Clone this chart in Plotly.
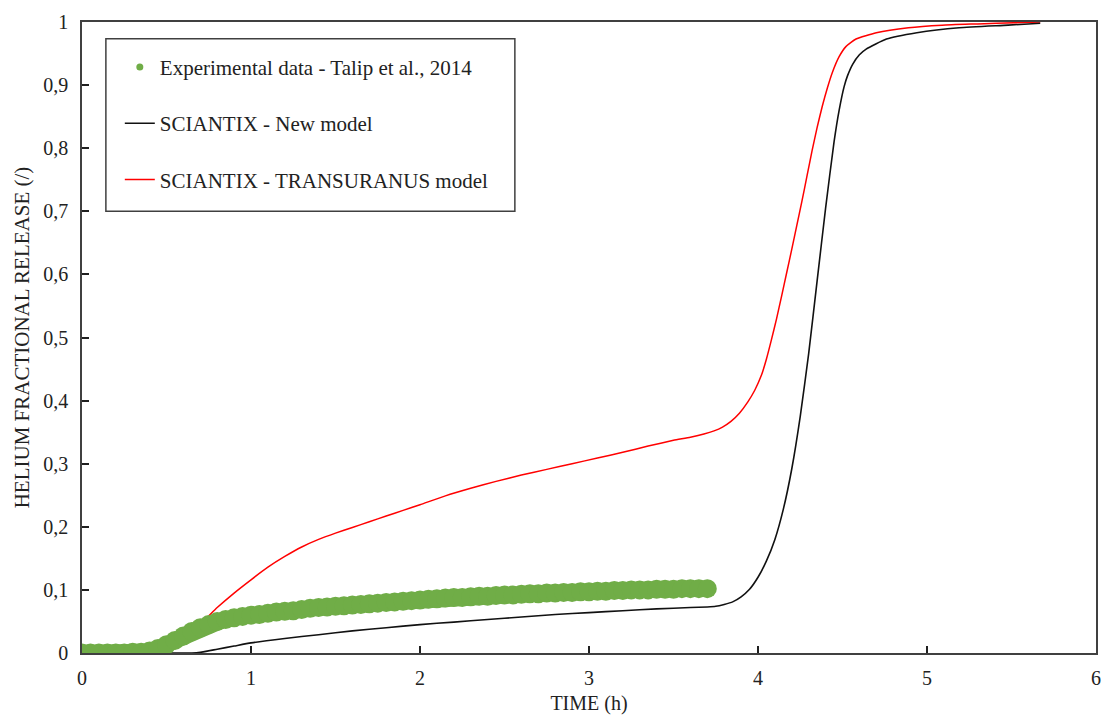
import plotly.graph_objects as go

# Experimental helium release (Talip et al., 2014)
exp_time = [0.00, 0.05, 0.10, 0.15, 0.20, 0.25, 0.30, 0.35, 0.40, 0.45,
            0.50, 0.55, 0.60, 0.65, 0.70, 0.75, 0.80, 0.85, 0.90, 0.95,
            1.00, 1.05, 1.10, 1.15, 1.20, 1.25, 1.30, 1.35, 1.40, 1.45,
            1.50, 1.55, 1.60, 1.65, 1.70, 1.75, 1.80, 1.85, 1.90, 1.95,
            2.00, 2.05, 2.10, 2.15, 2.20, 2.25, 2.30, 2.35, 2.40, 2.45,
            2.50, 2.55, 2.60, 2.65, 2.70, 2.75, 2.80, 2.85, 2.90, 2.95,
            3.00, 3.05, 3.10, 3.15, 3.20, 3.25, 3.30, 3.35, 3.40, 3.45,
            3.50, 3.55, 3.60, 3.65, 3.70]
exp_release = [0.000, 0.000, 0.000, 0.000, 0.000, 0.000, 0.001, 0.001, 0.003, 0.007,
               0.013, 0.020, 0.027, 0.034, 0.040, 0.045, 0.050, 0.053, 0.056, 0.058,
               0.060, 0.061, 0.063, 0.065, 0.066, 0.067, 0.069, 0.071, 0.072, 0.073,
               0.074, 0.075, 0.076, 0.077, 0.078, 0.079, 0.080, 0.081, 0.082, 0.083,
               0.084, 0.085, 0.086, 0.087, 0.088, 0.088, 0.089, 0.090, 0.090, 0.091,
               0.092, 0.092, 0.093, 0.094, 0.094, 0.095, 0.095, 0.096, 0.096, 0.097,
               0.097, 0.098, 0.098, 0.099, 0.099, 0.100, 0.100, 0.100, 0.101, 0.101,
               0.101, 0.102, 0.102, 0.102, 0.102]

# SCIANTIX - New model
new_time = [0.00, 0.65, 0.70, 0.80, 0.90, 1.00, 1.20, 1.40, 1.60, 1.80,
            2.00, 2.20, 2.40, 2.60, 2.80, 3.00, 3.20, 3.40, 3.60, 3.70,
            3.75, 3.80, 3.85, 3.90, 3.95, 4.00, 4.05, 4.10, 4.15, 4.20,
            4.25, 4.30, 4.35, 4.40, 4.45, 4.48, 4.51, 4.53, 4.56, 4.60,
            4.64, 4.76, 4.94, 5.19, 5.48, 5.67]
new_release = [0.000, 0.000, 0.001, 0.006, 0.011, 0.016, 0.023, 0.029, 0.035, 0.040,
               0.045, 0.049, 0.053, 0.057, 0.061, 0.064, 0.067, 0.070, 0.072, 0.073,
               0.074, 0.077, 0.081, 0.089, 0.101, 0.120, 0.146, 0.180, 0.228, 0.292,
               0.375, 0.475, 0.590, 0.705, 0.810, 0.860, 0.898, 0.915, 0.933, 0.948,
               0.957, 0.973, 0.983, 0.991, 0.995, 0.998]

# SCIANTIX - TRANSURANUS model
tu_time = [0.00, 0.35, 0.40, 0.50, 0.60, 0.70, 0.80, 0.90, 1.00, 1.10,
           1.20, 1.30, 1.40, 1.50, 1.60, 1.70, 1.80, 1.90, 2.00, 2.15,
           2.30, 2.45, 2.60, 2.75, 2.90, 3.05, 3.20, 3.35, 3.50, 3.60,
           3.68, 3.74, 3.79, 3.84, 3.89, 3.94, 3.98, 4.02, 4.05, 4.08,
           4.11, 4.14, 4.17, 4.20, 4.23, 4.26, 4.29, 4.32, 4.35, 4.38,
           4.41, 4.44, 4.48, 4.52, 4.58, 4.70, 4.89, 5.09, 5.30, 5.53,
           5.67]
tu_release = [0.000, 0.000, 0.002, 0.012, 0.027, 0.046, 0.072, 0.095, 0.116, 0.136,
              0.153, 0.168, 0.180, 0.190, 0.199, 0.208, 0.217, 0.226, 0.235, 0.249,
              0.261, 0.272, 0.282, 0.291, 0.300, 0.309, 0.318, 0.328, 0.337, 0.342,
              0.347, 0.352, 0.358, 0.367, 0.380, 0.398, 0.416, 0.440, 0.466, 0.497,
              0.530, 0.566, 0.603, 0.640, 0.678, 0.716, 0.756, 0.796, 0.833, 0.866,
              0.895, 0.920, 0.945, 0.961, 0.973, 0.983, 0.991, 0.995, 0.997, 0.999,
              1.000]

x_ticks = [0, 1, 2, 3, 4, 5, 6]
y_ticks = [0, 0.1, 0.2, 0.3, 0.4, 0.5, 0.6, 0.7, 0.8, 0.9, 1.0]
y_tick_text = ["0", "0,1", "0,2", "0,3", "0,4", "0,5", "0,6", "0,7", "0,8", "0,9", "1"]

GREEN = "#70AD47"
RED = "#FF0000"
BLACK = "#111111"
FONT = "Liberation Serif"
TEXT = "#222222"

fig = go.Figure()

# legend entries (kept separate so the legend symbols stay small)
fig.add_trace(go.Scatter(
    x=[None], y=[None], mode="markers", name="Experimental data - Talip et al., 2014",
    marker=dict(color=GREEN, size=7), legendgroup="exp",
))
fig.add_trace(go.Scatter(
    x=[None], y=[None], mode="lines", name="SCIANTIX - New model",
    legendgroup="new", line=dict(color=BLACK, width=1.6),
))
fig.add_trace(go.Scatter(
    x=[None], y=[None], mode="lines", name="SCIANTIX - TRANSURANUS model",
    legendgroup="tu", line=dict(color=RED, width=1.5),
))

# model curves
fig.add_trace(go.Scatter(
    x=tu_time, y=tu_release, mode="lines", showlegend=False, legendgroup="tu",
    line=dict(color=RED, width=1.5, shape="spline", smoothing=0.5),
))
fig.add_trace(go.Scatter(
    x=new_time, y=new_release, mode="lines", showlegend=False, legendgroup="new",
    line=dict(color=BLACK, width=1.6, shape="spline", smoothing=0.5),
))
# experimental band on top
fig.add_trace(go.Scatter(
    x=exp_time, y=exp_release, mode="lines+markers", showlegend=False, legendgroup="exp",
    line=dict(color=GREEN, width=15),
    marker=dict(color=GREEN, size=19, line=dict(width=0)),
))

axis_common = dict(
    showline=True, mirror=True, linecolor="#404040", linewidth=1.5,
    ticks="inside", ticklen=7, tickcolor="#202020", tickwidth=1.5,
    showgrid=False, zeroline=False,
    tickfont=dict(family=FONT, size=20, color=TEXT),
)

# frame around the legend
PX_L, PX_R, PX_T, PX_B = 82, 1101, 16, 653
def px_x(p):
    return (p - PX_L) / (PX_R - PX_L)
def px_y(p):
    return (PX_B - p) / (PX_B - PX_T)

fig.add_shape(type="rect", xref="paper", yref="paper",
              x0=px_x(106), x1=px_x(517), y0=px_y(207), y1=px_y(33),
              line=dict(color="#404040", width=1.5), fillcolor="white", layer="below")

fig.update_layout(
    width=1112, height=724,
    margin=dict(l=82, r=11, t=16, b=71),
    paper_bgcolor="white", plot_bgcolor="white",
    font=dict(family=FONT, size=20, color=TEXT),
    xaxis=dict(
        range=[0, 6], tickvals=x_ticks, ticktext=[str(v) for v in x_ticks],
        ticklabelstandoff=6,
        title=dict(text="TIME (h)", font=dict(family=FONT, size=20, color=TEXT), standoff=8),
        **axis_common,
    ),
    yaxis=dict(
        range=[0, 1], tickvals=y_ticks, ticktext=y_tick_text,
        ticklabelstandoff=8,
        title=dict(text="HELIUM FRACTIONAL RELEASE (/)", font=dict(family=FONT, size=21, color=TEXT), standoff=8),
        **axis_common,
    ),
    legend=dict(
        x=px_x(120), y=px_y(41), xanchor="left", yanchor="top",
        bgcolor="rgba(0,0,0,0)", borderwidth=0,
        font=dict(family=FONT, size=21, color=TEXT),
        tracegroupgap=26, traceorder="grouped",
    ),
)

fig.write_html("out.html")
